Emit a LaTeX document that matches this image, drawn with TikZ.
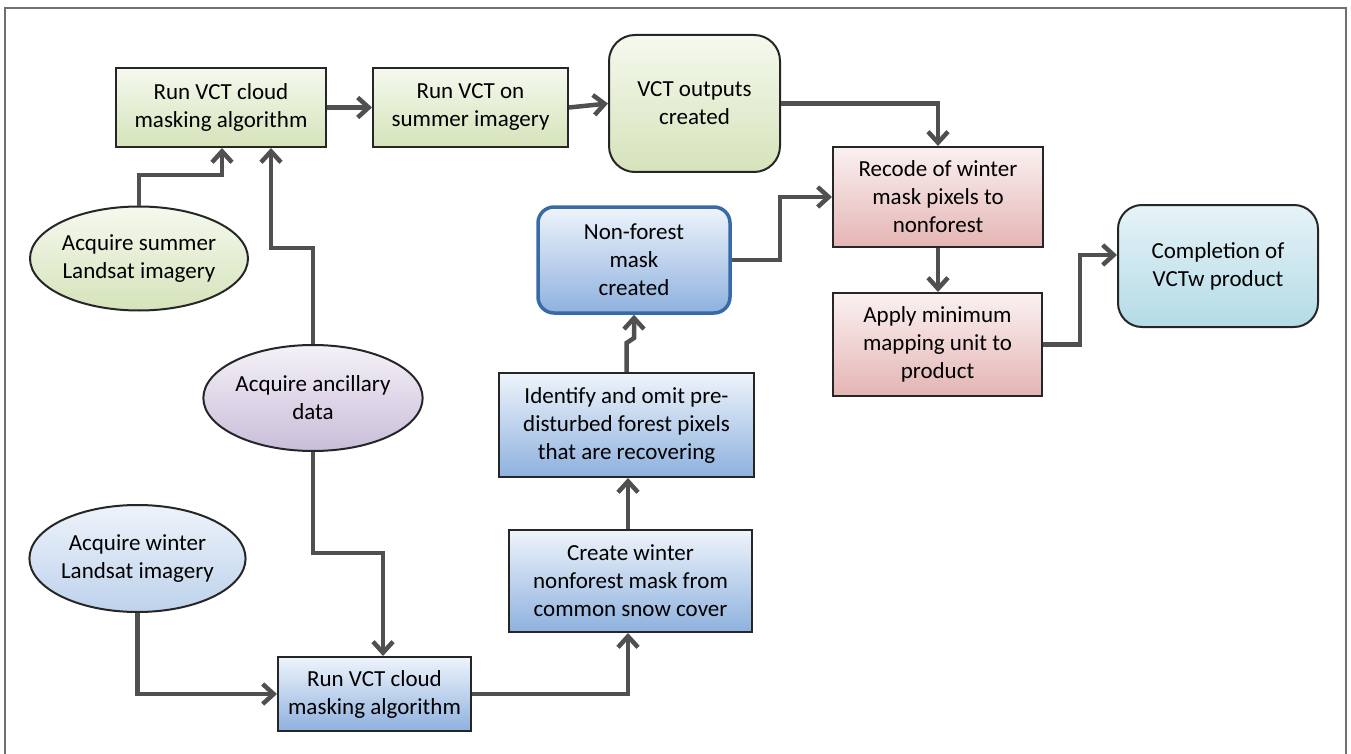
\documentclass[tikz,border=0pt]{standalone}
\usepackage{fontspec}
\setmainfont{Carlito}
\usetikzlibrary{arrows.meta,shapes.geometric,calc}
\definecolor{linec}{HTML}{505050}
\definecolor{bordc}{HTML}{262626}
\definecolor{frame}{HTML}{707070}
\definecolor{gtop}{HTML}{F5F9EE}
\definecolor{gbot}{HTML}{D5E3BA}
\definecolor{ptop}{HTML}{FBF1F1}
\definecolor{pbot}{HTML}{E4B5B4}
\definecolor{btop}{HTML}{EEF4FB}
\definecolor{bbot}{HTML}{8EB1DE}
\definecolor{nfb}{HTML}{3A6AA6}
\definecolor{ttop}{HTML}{E6F3F7}
\definecolor{tbot}{HTML}{B3DBE6}
\definecolor{vtop}{HTML}{F5F2F8}
\definecolor{vbot}{HTML}{C9BDD9}
\definecolor{ebtop}{HTML}{EEF3FA}
\definecolor{ebbot}{HTML}{BDD2EC}
\tikzset{
  base/.style={draw=bordc, line width=2pt, align=center, inner sep=0pt, text=black,
    font=\fontsize{23}{28}\selectfont},
  greenbox/.style={base, rectangle, top color=gtop, bottom color=gbot},
  pinkbox/.style={base, rectangle, top color=ptop, bottom color=pbot},
  bluebox/.style={base, rectangle, top color=btop, bottom color=bbot},
  oval/.style={base, ellipse},
  arr/.style={draw=linec, line width=4.5pt, -{Straight Barb[length=11pt,width=20pt]}},
}
\begin{document}
\begin{tikzpicture}[x=1pt,y=-1pt]
\useasboundingbox (0,0) rectangle (1351,754);
\draw[frame, line width=2pt] (5,754) -- (5,8) -- (1346,8) -- (1346,754);

\node[greenbox, minimum width=210pt, minimum height=79pt] (b1) at (221,107.5) {Run VCT cloud\\masking algorithm};
\node[greenbox, minimum width=195pt, minimum height=79pt] (b2) at (470.5,107.5) {Run VCT on\\summer imagery};
\node[greenbox, rounded corners=26pt, minimum width=171pt, minimum height=137pt] (out) at (694.5,103.5) {VCT outputs\\created};
\node[pinkbox, minimum width=210pt, minimum height=100pt] (rec) at (938,197) {Recode of winter\\mask pixels to\\nonforest};
\node[pinkbox, minimum width=209pt, minimum height=103pt] (app) at (937.5,344.5) {Apply minimum\\mapping unit to\\product};
\node[base, rectangle, rounded corners=24pt, top color=ttop, bottom color=tbot, minimum width=200pt, minimum height=122pt] (comp) at (1218,266) {Completion of\\VCTw product};
\node[base, rectangle, draw=nfb, line width=3.5pt, rounded corners=16pt, top color=btop, bottom color=bbot, minimum width=192pt, minimum height=106pt] (nf) at (634,260) {Non-forest\\mask\\created};
\node[bluebox, minimum width=255pt, minimum height=104pt] (idf) at (626.5,425) {Identify and omit pre-\\disturbed forest pixels\\that are recovering};
\node[bluebox, minimum width=243pt, minimum height=102pt] (cre) at (630.5,581) {Create winter\\nonforest mask from\\common snow cover};
\node[bluebox, minimum width=193pt, minimum height=74pt] (b10) at (374.5,694) {Run VCT cloud\\masking algorithm};
\node[oval, top color=gtop, bottom color=gbot, minimum width=214pt, minimum height=104pt] (e1) at (139,258.5) {Acquire summer\\Landsat imagery};
\node[oval, top color=vtop, bottom color=vbot, minimum width=215pt, minimum height=106pt] (e2) at (313,398) {Acquire ancillary\\data};
\node[oval, top color=ebtop, bottom color=ebbot, minimum width=215pt, minimum height=107pt] (e3) at (137.5,558.5) {Acquire winter\\Landsat imagery};

\draw[arr] (e1.north) -- (e1.north |- 0,175) -| (b1.south -| 222,0);
\draw[arr] (e2.north) -- (e2.north |- 0,248) -| (b1.south -| 271,0);
\draw[arr] (b1.east) -- (b2.west);
\draw[arr] (b2.east) -- (out.west);
\draw[arr] (out.east) -| (rec.north);
\draw[arr] (nf.east) -- (nf.east -| 780,0) |- (rec.west);
\draw[arr] (rec.south) -- (rec.south |- app.north);
\draw[arr] (app.east) -- (app.east -| 1080,0) |- (comp.west |- 0,255);
\draw[arr] (idf.north) -- (626.5,343) -- (nf.south |- 0,338) -- (nf.south);
\draw[arr] (cre.north -| 628,0) -- (idf.south -| 628,0);
\draw[arr] (b10.east) -| (cre.south -| 628,0);
\draw[arr] (e3.south) |- (b10.west);
\draw[arr] (e2.south) -- (e2.south |- 0,553) -| (b10.north -| 383,0);
\end{tikzpicture}
\end{document}
